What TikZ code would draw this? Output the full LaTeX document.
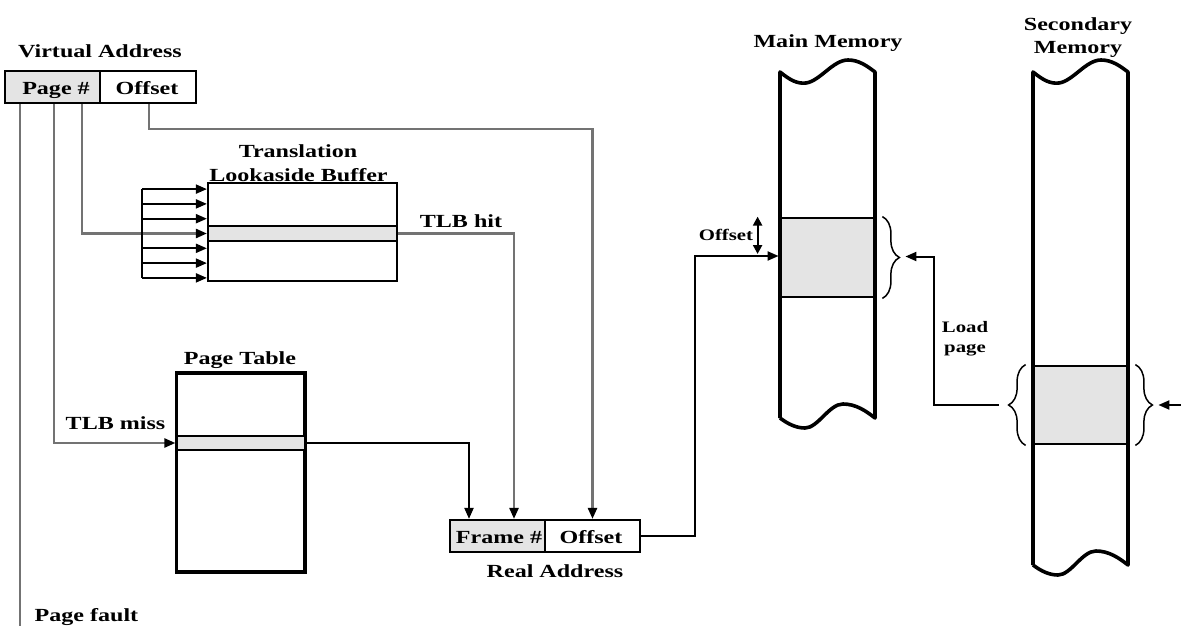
\documentclass[tikz,border=0pt]{standalone}
\usepackage{fontspec}
\setmainfont[FakeStretch=1.3]{Liberation Serif}
\usetikzlibrary{arrows.meta,decorations.pathreplacing,calc}
\definecolor{hl}{RGB}{228,228,228}
\definecolor{cg}{RGB}{115,115,115}
\tikzset{
  lbl/.style={font=\bfseries\fontsize{18.5}{21}\selectfont, inner sep=0pt, anchor=base},
  slbl/.style={font=\bfseries\fontsize{16}{18}\selectfont, inner sep=0pt, anchor=base},
  cell/.style={draw, line width=2.2pt, inner sep=0pt, minimum width=95pt, minimum height=32pt},
  rowbox/.style={draw, line width=2.2pt, fill=hl, inner sep=0pt},
  tip/.style={-{Triangle[length=11pt,width=9pt,fill=black,color=black]}},
  gline/.style={draw=cg, line width=2.4pt},
  bline/.style={draw=black, line width=2pt},
  mem/.style={draw=black, line width=3.6pt, line join=round},
  bracestyle/.style={draw=black, line width=1.5pt, decorate, decoration={brace, amplitude=17pt}},
}
\begin{document}
\begin{tikzpicture}[x=1pt,y=-1pt]
\useasboundingbox (0,0) rectangle (1181,626);
\fill[white] (0,0) rectangle (1181,626);

% ---------- Virtual address ----------
\node[cell, fill=hl] (pg) at (52.5,87) {};
\node[cell, minimum width=96pt] (vo) at (148,87) {};
\node[lbl] (pgt) at (56,95) {Page \#};
\node[lbl] (vot) at (147,95) {Offset};
\node[lbl] (vat) at (100,58) {Virtual Address};

% ---------- TLB ----------
\node[draw, line width=2.4pt, inner sep=0pt, minimum width=189pt, minimum height=98pt] (tlb) at (302.5,232) {};
\node[rowbox, minimum width=189pt, minimum height=15pt] (tlbrow) at (302.5,233.5) {};
\node[lbl] (tlbt1) at (298,157) {Translation};
\node[lbl] (tlbt2) at (298.5,181) {Lookaside Buffer};
\node[lbl] (hitt) at (461,227) {TLB hit};

% ---------- Page table ----------
\node[draw, line width=3.6pt, inner sep=0pt, minimum width=128.5pt, minimum height=199pt] (pt) at (240.75,472.5) {};
\node[rowbox, minimum width=128.5pt, minimum height=14pt] (ptrow) at (240.75,443) {};
\node[lbl] (ptt) at (240,364) {Page Table};
\node[lbl] (misst) at (115.5,429) {TLB miss};

% ---------- Real address ----------
\node[cell, fill=hl] (fr) at (497.5,536) {};
\node[cell] (ro) at (592.5,536) {};
\node[lbl] (frt) at (499,543) {Frame \#};
\node[lbl] (rot) at (591,543) {Offset};
\node[lbl] (rat) at (555,577) {Real Address};

\node[lbl] (pft) at (86.5,621) {Page fault};

% ---------- Main memory ----------
\node[draw, line width=2.8pt, fill=hl, inner sep=0pt, minimum width=95pt, minimum height=79pt] (mmpage) at (827.5,257.5) {};
\draw[mem] (780,418) -- (780,72)
  .. controls (790,80) and (797,84) .. (806,83)
  .. controls (820,81) and (833,60) .. (848,60)
  .. controls (859,60) and (867,66) .. (875,72)
  -- (875,418)
  .. controls (866,411) and (856,404) .. (843,404)
  .. controls (829,404) and (818,428) .. (805,428)
  .. controls (796,428) and (788,424) .. (780,418);
\node[lbl] (mmt) at (828,48) {Main Memory};
\node[slbl] (offt) at (726,240) {Offset};

% ---------- Secondary memory ----------
\node[draw, line width=2.8pt, fill=hl, inner sep=0pt, minimum width=95pt, minimum height=78pt] (smpage) at (1080.5,405) {};
\draw[mem] (1033,565) -- (1033,72)
  .. controls (1043,80) and (1050,84) .. (1059,83)
  .. controls (1073,81) and (1086,60) .. (1101,60)
  .. controls (1112,60) and (1120,66) .. (1128,72)
  -- (1128,565)
  .. controls (1119,558) and (1109,551) .. (1096,551)
  .. controls (1082,551) and (1071,575) .. (1058,575)
  .. controls (1049,575) and (1041,571) .. (1033,565);
\node[lbl] (smt1) at (1078,31) {Secondary};
\node[lbl] (smt2) at (1078,54) {Memory};
\node[slbl] (ldt1) at (965,332) {Load};
\node[slbl] (ldt2) at (965,352) {page};

% ---------- Braces ----------
\draw[bracestyle] ([xshift=6pt]mmpage.north east) -- ([xshift=6pt]mmpage.south east);
\draw[bracestyle] ([xshift=-6pt]smpage.south west) -- ([xshift=-6pt]smpage.north west);
\draw[bracestyle] ([xshift=6pt]smpage.north east) -- ([xshift=6pt]smpage.south east);

% ---------- Connectors ----------
\coordinate (pfend) at (20,626);
\coordinate (rin) at (1181,405);

\draw[gline] ([xshift=-32.5pt]pg.south) -- (pfend);
\draw[gline, tip] ([xshift=1.5pt]pg.south) |- (ptrow.west);
\draw[gline, tip] ([xshift=29.5pt]pg.south) |- (tlbrow.west);
\draw[gline, tip] ([xshift=1pt]vo.south) -- ++(0,25) -| (ro.north);

% TLB inputs
\draw[bline] ([xshift=-65pt,yshift=44.4pt]tlbrow.west) -- ([xshift=-65pt,yshift=-44.4pt]tlbrow.west);
\foreach \d in {-44.4,-29.6,-14.8,14.8,29.6,44.4}
  \draw[bline, tip] ([xshift=-65pt,yshift=\d pt]tlbrow.west) -- ([yshift=\d pt]tlbrow.west);

\draw[gline, tip] (tlbrow.east) -| ([xshift=16.5pt]fr.north);
\draw[bline, tip] (ptrow.east) -| ([xshift=-28.5pt]fr.north);

\draw[bline, tip] (ro.east) -- ++(54,0) |- ([yshift=1.5pt]mmpage.west);
\draw[line width=2.2pt, {Triangle[length=9pt,width=9pt]}-{Triangle[length=9pt,width=9pt]}]
  ([xshift=-21pt]mmpage.north west) -- ([xshift=-21pt,yshift=3.5pt]mmpage.west);

\draw[bline, tip] ([xshift=-33pt]smpage.west) -- ++(-65,0) |- ([xshift=29pt,yshift=1pt]mmpage.east);
\draw[bline, tip] (rin) -- ([xshift=29pt]smpage.east);
\end{tikzpicture}
\end{document}
